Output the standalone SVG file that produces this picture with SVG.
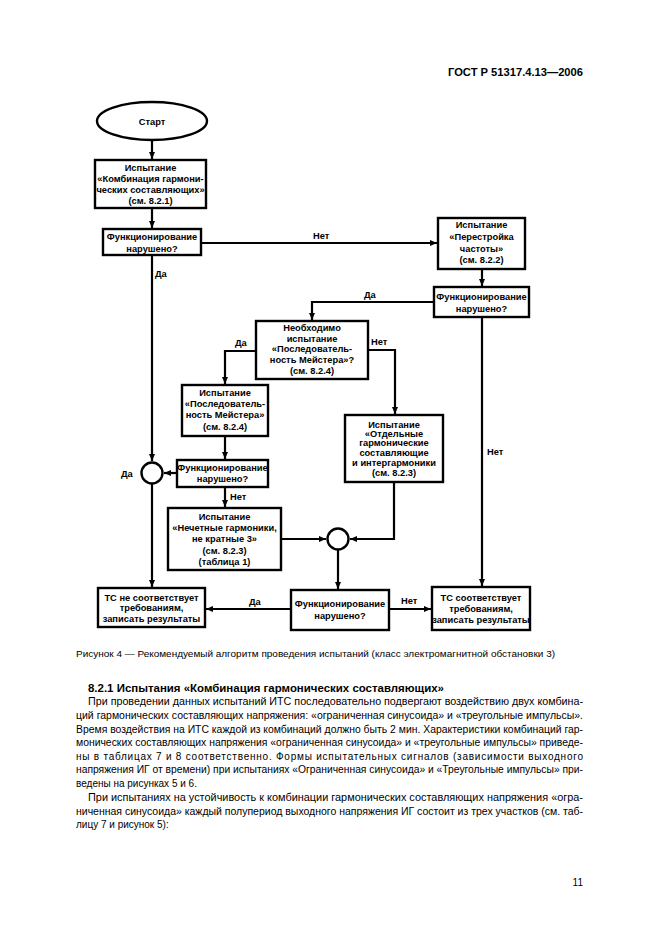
<svg xmlns="http://www.w3.org/2000/svg" width="661" height="936" viewBox="0 0 661 936">
<defs>
<marker id="ah" markerUnits="userSpaceOnUse" markerWidth="8" markerHeight="8" viewBox="0 0 8 8" refX="7" refY="4" orient="auto">
<path d="M0,1 L7,4 L0,7 Z" fill="#000"/>
</marker>
</defs>
<style>
.nd{fill:#fff;stroke:#000;stroke-width:2.4}
.ln{fill:none;stroke:#000;stroke-width:2.2;marker-end:url(#ah)}
.t{font-family:"Liberation Sans",Arial,sans-serif;font-weight:bold;font-size:9.3px;text-anchor:middle;fill:#000}
.lb{font-family:"Liberation Sans",Arial,sans-serif;font-weight:bold;font-size:9.3px;fill:#000}
.b{font-family:"Liberation Sans",Arial,sans-serif;font-size:10px;fill:#000}
</style>
<rect width="661" height="936" fill="#fff"/>
<text x="583" y="76" font-family="Liberation Sans, Arial, sans-serif" font-weight="bold" font-size="11" text-anchor="end" textLength="135" lengthAdjust="spacingAndGlyphs">ГОСТ Р 51317.4.13—2006</text>

<g id="connectors">
<line class="ln" x1="152" y1="140" x2="152" y2="159"/>
<line class="ln" x1="152" y1="208" x2="152" y2="228"/>
<line class="ln" x1="201" y1="243" x2="437" y2="243"/>
<line class="ln" x1="482" y1="269" x2="482" y2="286"/>
<polyline class="ln" points="434,302 312,302 312,320"/>
<polyline class="ln" points="368,350 395,350 395,414"/>
<polyline class="ln" points="256,351 225,351 225,384"/>
<line class="ln" x1="225" y1="436" x2="225" y2="459"/>
<line class="ln" x1="177" y1="473" x2="164" y2="473"/>
<line class="ln" x1="152" y1="255" x2="152" y2="461"/>
<line class="ln" x1="152" y1="484" x2="152" y2="587"/>
<line class="ln" x1="225" y1="487" x2="225" y2="507"/>
<line class="ln" x1="281" y1="539" x2="326" y2="539"/>
<polyline class="ln" points="394,482 394,539 350,539"/>
<line class="ln" x1="338" y1="550" x2="338" y2="589"/>
<line class="ln" x1="291" y1="609" x2="206" y2="609"/>
<line class="ln" x1="389" y1="609" x2="431" y2="609"/>
<line class="ln" x1="482" y1="317" x2="482" y2="586"/>
<text class="lb" x="313" y="239">Нет</text>
<text class="lb" x="364" y="298">Да</text>
<text class="lb" x="371" y="345">Нет</text>
<text class="lb" x="235" y="346">Да</text>
<text class="lb" x="155" y="277">Да</text>
<text class="lb" x="121" y="477">Да</text>
<text class="lb" x="230" y="500">Нет</text>
<text class="lb" x="249" y="605">Да</text>
<text class="lb" x="401" y="604">Нет</text>
<text class="lb" x="487" y="455">Нет</text>
</g>

<g id="start">
<ellipse class="nd" cx="152" cy="121" rx="55" ry="19"/>
<text class="t" x="152" y="125">Старт</text>
</g>

<g id="test-combination">
<rect class="nd" x="95" y="160" width="111" height="48"/>
<text class="t" x="150.5" y="171">Испытание</text>
<text class="t" x="150.5" y="182">«Комбинация гармони-</text>
<text class="t" x="150.5" y="193">ческих составляющих»</text>
<text class="t" x="150.5" y="204">(см. 8.2.1)</text>
</g>

<g id="decision-1">
<rect class="nd" x="103" y="229" width="98" height="26"/>
<text class="t" x="152" y="240">Функционирование</text>
<text class="t" x="152" y="252">нарушено?</text>
</g>

<g id="test-frequency">
<rect class="nd" x="438" y="218" width="87" height="51"/>
<text class="t" x="481.5" y="228">Испытание</text>
<text class="t" x="481.5" y="240">«Перестройка</text>
<text class="t" x="481.5" y="252">частоты»</text>
<text class="t" x="481.5" y="263">(см. 8.2.2)</text>
</g>

<g id="decision-2">
<rect class="nd" x="434" y="287" width="95" height="30"/>
<text class="t" x="481.5" y="300">Функционирование</text>
<text class="t" x="481.5" y="312">нарушено?</text>
</g>

<g id="decision-meister">
<rect class="nd" x="256" y="321" width="112" height="58"/>
<text class="t" x="312" y="331">Необходимо</text>
<text class="t" x="312" y="342">испытание</text>
<text class="t" x="312" y="352">«Последователь-</text>
<text class="t" x="312" y="363">ность Мейстера»?</text>
<text class="t" x="312" y="374">(см. 8.2.4)</text>
</g>

<g id="test-meister">
<rect class="nd" x="182" y="385" width="86" height="51"/>
<text class="t" x="225" y="396">Испытание</text>
<text class="t" x="225" y="407">«Последователь-</text>
<text class="t" x="225" y="418">ность Мейстера»</text>
<text class="t" x="225" y="430">(см. 8.2.4)</text>
</g>

<g id="test-individual">
<rect class="nd" x="345" y="415" width="98" height="67"/>
<text class="t" x="394" y="428">Испытание</text>
<text class="t" x="394" y="437">«Отдельные</text>
<text class="t" x="394" y="446">гармонические</text>
<text class="t" x="394" y="456">составляющие</text>
<text class="t" x="394" y="466">и интергармоники</text>
<text class="t" x="394" y="476">(см. 8.2.3)</text>
</g>

<g id="decision-3">
<rect class="nd" x="177" y="460" width="91" height="27"/>
<text class="t" x="222.5" y="471">Функционирование</text>
<text class="t" x="222.5" y="482">нарушено?</text>
</g>

<g id="junction-1">
<circle class="nd" cx="152" cy="473" r="10.5"/>
</g>

<g id="test-odd">
<rect class="nd" x="168" y="508" width="113" height="62"/>
<text class="t" x="224.5" y="520">Испытание</text>
<text class="t" x="224.5" y="531">«Нечетные гармоники,</text>
<text class="t" x="224.5" y="542">не кратные 3»</text>
<text class="t" x="224.5" y="554">(см. 8.2.3)</text>
<text class="t" x="224.5" y="565">(таблица 1)</text>
</g>

<g id="junction-2">
<circle class="nd" cx="338" cy="539" r="10.5"/>
</g>

<g id="decision-4">
<rect class="nd" x="291" y="590" width="98" height="40"/>
<text class="t" x="340" y="607">Функционирование</text>
<text class="t" x="340" y="619">нарушено?</text>
</g>

<g id="result-fail">
<rect class="nd" x="98" y="588" width="107" height="39"/>
<text class="t" x="151.5" y="601">ТС не соответствует</text>
<text class="t" x="151.5" y="611">требованиям,</text>
<text class="t" x="151.5" y="622">записать результаты</text>
</g>

<g id="result-pass">
<rect class="nd" x="432" y="587" width="98" height="43"/>
<text class="t" x="481" y="601">ТС соответствует</text>
<text class="t" x="481" y="612">требованиям,</text>
<text class="t" x="481" y="623">записать результаты</text>
</g>

<text x="76" y="657" font-family="Liberation Sans, Arial, sans-serif" font-size="9" textLength="479" lengthAdjust="spacingAndGlyphs">Рисунок 4 — Рекомендуемый алгоритм проведения испытаний (класс электромагнитной обстановки 3)</text>
<text x="88" y="692" font-family="Liberation Sans, Arial, sans-serif" font-weight="bold" font-size="10.5" textLength="356" lengthAdjust="spacingAndGlyphs">8.2.1  Испытания «Комбинация гармонических составляющих»</text>
<text class="b" x="88" y="705" textLength="495" lengthAdjust="spacingAndGlyphs">При проведении данных испытаний ИТС последовательно подвергают воздействию двух комбина-</text>
<text class="b" x="76" y="719" textLength="507" lengthAdjust="spacingAndGlyphs">ций гармонических составляющих напряжения: «ограниченная синусоида» и «треугольные импульсы».</text>
<text class="b" x="76" y="732.5" textLength="507" lengthAdjust="spacingAndGlyphs">Время воздействия на ИТС каждой из комбинаций должно быть 2 мин. Характеристики комбинаций гар-</text>
<text class="b" x="76" y="746" textLength="507" lengthAdjust="spacingAndGlyphs">монических составляющих напряжения «ограниченная синусоида» и «треугольные импульсы» приведе-</text>
<text class="b" x="76" y="759.5" textLength="507" lengthAdjust="spacing">ны в таблицах 7 и 8 соответственно. Формы испытательных сигналов (зависимости выходного</text>
<text class="b" x="76" y="773" textLength="507" lengthAdjust="spacingAndGlyphs">напряжения ИГ от времени) при испытаниях «Ограниченная синусоида» и «Треугольные импульсы» при-</text>
<text class="b" x="76" y="787">ведены на рисунках 5 и 6.</text>
<text class="b" x="88" y="801" textLength="495" lengthAdjust="spacingAndGlyphs">При испытаниях на устойчивость к комбинации гармонических составляющих напряжения «огра-</text>
<text class="b" x="76" y="814.5" textLength="507" lengthAdjust="spacingAndGlyphs">ниченная синусоида» каждый полупериод выходного напряжения ИГ состоит из трех участков (см. таб-</text>
<text class="b" x="76" y="828">лицу 7 и рисунок 5):</text>
<text class="b" x="583" y="886" text-anchor="end">11</text>
</svg>
